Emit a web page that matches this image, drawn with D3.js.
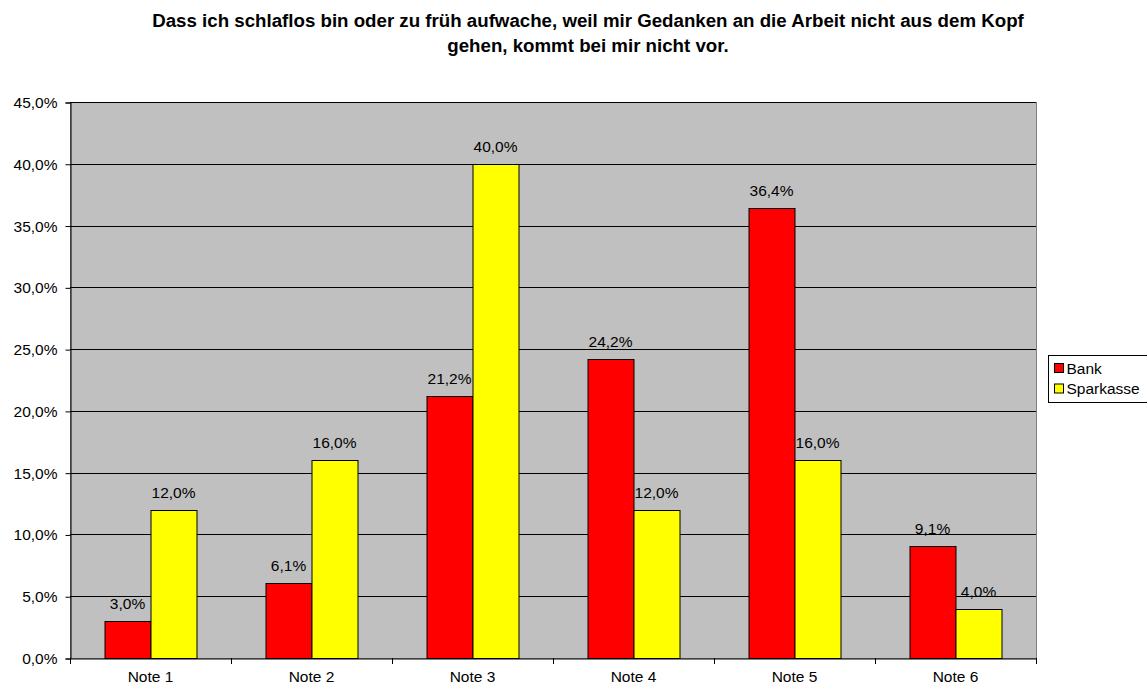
<!DOCTYPE html>
<html>
<head>
<meta charset="utf-8">
<script src="https://cdn.jsdelivr.net/npm/d3@7"></script>
<style>
  html, body { margin: 0; padding: 0; background: #fff; }
  svg { display: block; font-family: Arial, "Liberation Sans", sans-serif; }
</style>
</head>
<body>
<svg id="chart" width="1147" height="687"></svg>
<script>
// Chart data
const categories = ["Note 1", "Note 2", "Note 3", "Note 4", "Note 5", "Note 6"];
const seriesNames = ["Bank", "Sparkasse"];
const bankValues = [3.0, 6.1, 21.2, 24.2, 36.4, 9.1];
const sparkasseValues = [12.0, 16.0, 40.0, 12.0, 16.0, 4.0];
const yTicks = [0, 5, 10, 15, 20, 25, 30, 35, 40, 45];
const seriesColors = ["#FF0000", "#FFFF00"];
const titleLines = [
  "Dass ich schlaflos bin oder zu früh aufwache, weil mir Gedanken an die Arbeit nicht aus dem Kopf",
  "gehen, kommt bei mir nicht vor."
];

const FONT = "Arial, 'Liberation Sans', sans-serif";
const svg = d3.select("#chart");
const plot = { left: 70, right: 1036, top: 102, bottom: 658 };

const fmt = v => d3.format(".1f")(v).replace(".", ",") + "%";

const x = d3.scaleBand().domain(categories).range([plot.left, plot.right]).paddingInner(0).paddingOuter(0);
const xInner = d3.scaleBand().domain(seriesNames).range([0, 92]);
const groupOffset = (x.bandwidth() - 92) / 2;
const y = d3.scaleLinear().domain([0, 45]).range([plot.bottom, plot.top]);

// Plot background
svg.append("rect")
  .attr("x", plot.left + 0.5).attr("y", plot.top + 0.5)
  .attr("width", plot.right - plot.left).attr("height", plot.bottom - plot.top)
  .attr("fill", "#C0C0C0")
  .attr("stroke", "#808080").attr("stroke-width", 1);

// Gridlines
svg.append("g").selectAll("line")
  .data(yTicks.filter(t => t > 0))
  .join("line")
  .attr("x1", plot.left).attr("x2", plot.right)
  .attr("y1", d => Math.round(y(d)) + 0.5).attr("y2", d => Math.round(y(d)) + 0.5)
  .attr("stroke", "#000").attr("stroke-width", 1);

// Title
svg.append("g").selectAll("text")
  .data(titleLines)
  .join("text")
  .attr("x", 588).attr("y", (d, i) => 27 + i * 24.5)
  .attr("text-anchor", "middle")
  .attr("font-size", "18.7px").attr("font-weight", "bold")
  .attr("fill", "#000")
  .text(d => d);

// Y axis
const yAxis = d3.axisLeft(y).tickValues(yTicks).tickSize(5).tickPadding(8).tickFormat(fmt);
const gy = svg.append("g").attr("transform", `translate(${plot.left + 0.5},0.5)`).call(yAxis);
gy.select(".domain").attr("stroke", "#000");
gy.selectAll(".tick line").attr("stroke", "#000");
gy.selectAll(".tick text").attr("font-size", "15.5px").attr("fill", "#000").attr("font-family", FONT);

// X axis
const xAxis = d3.axisBottom(x).tickSize(0).tickPadding(12);
const gx = svg.append("g").attr("transform", `translate(0,${plot.bottom + 0.5})`).call(xAxis);
gx.select(".domain").attr("stroke", "#000");
gx.selectAll(".tick text").attr("font-size", "15.5px").attr("fill", "#000").attr("font-family", FONT);
// Boundary ticks between categories
svg.append("g").selectAll("line")
  .data(d3.range(categories.length + 1))
  .join("line")
  .attr("x1", i => Math.round(plot.left + i * x.bandwidth()) + 0.5)
  .attr("x2", i => Math.round(plot.left + i * x.bandwidth()) + 0.5)
  .attr("y1", plot.bottom).attr("y2", plot.bottom + 6)
  .attr("stroke", "#000");

// Bars
const rows = categories.map((c, i) => ({ cat: c, vals: [bankValues[i], sparkasseValues[i]] }));
const groups = svg.append("g").selectAll("g")
  .data(rows)
  .join("g")
  .attr("transform", d => `translate(${x(d.cat) + groupOffset},0)`);

groups.selectAll("rect")
  .data(d => d.vals.map((v, j) => ({ name: seriesNames[j], v, j })))
  .join("rect")
  .attr("x", d => Math.round(xInner(d.name)) + 0.5)
  .attr("y", d => Math.round(y(d.v)) + 0.5)
  .attr("width", xInner.bandwidth())
  .attr("height", d => Math.round(y(0)) - Math.round(y(d.v)))
  .attr("fill", d => seriesColors[d.j])
  .attr("stroke", "#000").attr("stroke-width", 1);

groups.selectAll("text")
  .data(d => d.vals.map((v, j) => ({ name: seriesNames[j], v, j })))
  .join("text")
  .attr("x", d => xInner(d.name) + xInner.bandwidth() / 2)
  .attr("y", d => y(d.v) - 12)
  .attr("text-anchor", "middle")
  .attr("font-size", "15.5px").attr("fill", "#000")
  .text(d => fmt(d.v));

// Legend
const legend = svg.append("g").attr("transform", "translate(1048.5,355.5)");
legend.append("rect").attr("width", 110).attr("height", 47).attr("fill", "#fff").attr("stroke", "#000");
const items = legend.selectAll("g.item")
  .data(seriesNames)
  .join("g").attr("class", "item")
  .attr("transform", (d, i) => `translate(6,${8 + i * 20.5})`);
items.append("rect").attr("width", 9).attr("height", 9)
  .attr("fill", (d, i) => seriesColors[i]).attr("stroke", "#000");
items.append("text").attr("x", 12).attr("y", 10)
  .attr("font-size", "15.5px").attr("fill", "#000")
  .text(d => d);
</script>
</body>
</html>
